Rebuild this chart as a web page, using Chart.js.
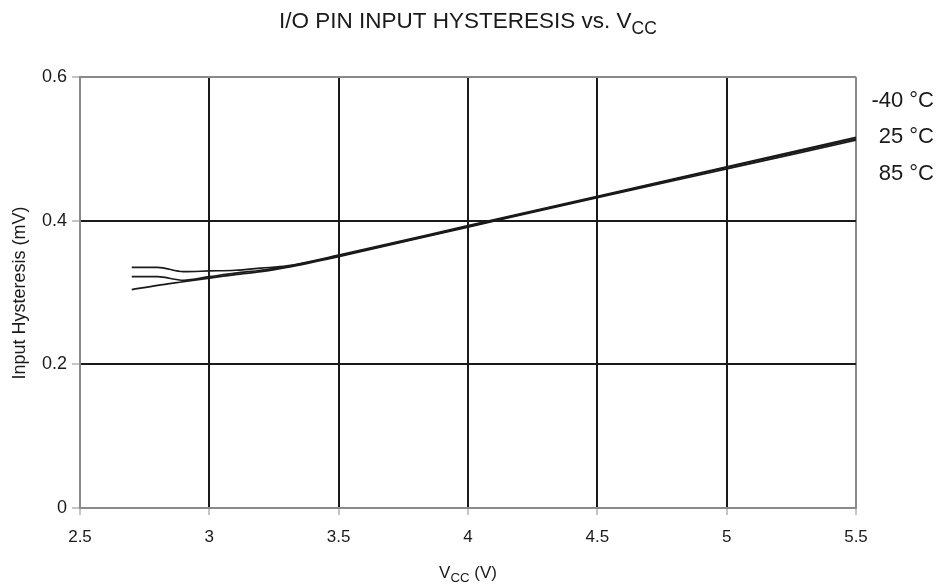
<!DOCTYPE html>
<html>
<head>
<meta charset="utf-8">
<script src="https://cdn.jsdelivr.net/npm/chart.js@4"></script>
<style>
  body { margin: 0; background: #fff; }
  canvas { display: block; }
</style>
</head>
<body>
<canvas id="chart" width="942" height="587"></canvas>
<script>
// supply voltage (V)
const vcc = [2.7, 2.8, 2.9, 3.0, 3.1, 3.2, 3.3, 3.5, 4.0, 4.5, 5.0, 5.5];
// input hysteresis per temperature
const hystM40 = [0.335, 0.335, 0.329, 0.330, 0.331, 0.334, 0.337, 0.352, 0.393, 0.434, 0.475, 0.516];
const hyst25 = [0.322, 0.322, 0.317, 0.322, 0.327, 0.331, 0.336, 0.351, 0.392, 0.433, 0.474, 0.514];
const hyst85 = [0.304, 0.310, 0.315, 0.320, 0.325, 0.329, 0.335, 0.350, 0.391, 0.432, 0.472, 0.512];
const tempLabels = ['-40 °C', '25 °C', '85 °C'];
const tempLabelY = [0.567, 0.516, 0.465];

const FONT = "'Liberation Sans', Arial, sans-serif";
const INK = '#1a1a1a';
const EDGE = '#8a8a8a';

const toPoints = (ys) => ys.map((y, i) => ({ x: vcc[i], y }));

const lineSet = (label, ys) => ({
  label,
  data: toPoints(ys),
  borderColor: INK,
  borderWidth: 1.7,
  pointRadius: 0,
  fill: false,
  cubicInterpolationMode: 'monotone',
});

// draws text with a subscript part
function subText(ctx, parts, cx, cy, size) {
  let total = 0;
  const pieces = parts.map((p) => {
    const s = p.sub ? size * 0.78 : size;
    ctx.font = s + 'px ' + FONT;
    const w = ctx.measureText(p.t).width;
    total += w;
    return { ...p, s, w };
  });
  let x = cx - total / 2;
  pieces.forEach((p) => {
    ctx.font = p.s + 'px ' + FONT;
    ctx.fillText(p.t, x, cy + (p.sub ? size * 0.3 : 0));
    x += p.w;
  });
}

const textPlugin = {
  id: 'texts',
  afterDraw(chart) {
    const { ctx, chartArea, scales } = chart;
    ctx.save();
    ctx.fillStyle = INK;
    ctx.textAlign = 'left';
    ctx.textBaseline = 'middle';
    const cx = (chartArea.left + chartArea.right) / 2;
    subText(ctx, [{ t: 'I/O PIN INPUT HYSTERESIS vs. V' }, { t: 'CC', sub: true }], cx, 22, 22.5);
    subText(ctx, [{ t: 'V' }, { t: 'CC', sub: true }, { t: ' (V)' }], cx, 573, 17);

    ctx.translate(20, 293);
    ctx.rotate(-Math.PI / 2);
    ctx.textAlign = 'center';
    ctx.font = '18px ' + FONT;
    ctx.fillText('Input Hysteresis (mV)', 0, 0);
    ctx.setTransform(1, 0, 0, 1, 0, 0);

    ctx.textAlign = 'right';
    ctx.font = '22px ' + FONT;
    tempLabels.forEach((t, i) => {
      ctx.fillText(t, 934, scales.y.getPixelForValue(tempLabelY[i]));
    });
    ctx.restore();
  },
};

const gridColor = (c) => {
  const s = c.scale;
  return c.tick && (c.tick.value === s.min || c.tick.value === s.max) ? EDGE : INK;
};

const fmt = (v) => String(Math.round(v * 10) / 10);

new Chart(document.getElementById('chart'), {
  type: 'line',
  data: {
    datasets: [
      lineSet('-40 °C', hystM40),
      lineSet('25 °C', hyst25),
      lineSet('85 °C', hyst85),
    ],
  },
  options: {
    responsive: false,
    animation: false,
    layout: { padding: { top: 77, right: 86, bottom: 0, left: 0 } },
    plugins: {
      legend: { display: false },
      tooltip: { enabled: false },
      title: { display: false },
    },
    scales: {
      x: {
        type: 'linear',
        min: 2.5,
        max: 5.5,
        afterFit: (s) => { s.height = 79; },
        ticks: {
          stepSize: 0.5,
          color: INK,
          padding: 12,
          callback: fmt,
          font: { family: FONT, size: 17 },
        },
        grid: {
          color: gridColor,
          lineWidth: 2,
          tickColor: EDGE,
          tickLength: 7,
          tickWidth: 1,
        },
        border: { color: EDGE, width: 2 },
      },
      y: {
        min: 0,
        max: 0.6,
        afterFit: (s) => { s.width = 80; },
        ticks: {
          stepSize: 0.2,
          color: INK,
          padding: 5,
          callback: fmt,
          font: { family: FONT, size: 18 },
        },
        grid: {
          color: gridColor,
          lineWidth: 2,
          tickColor: EDGE,
          tickLength: 8,
          tickWidth: 1,
        },
        border: { color: EDGE, width: 2 },
      },
    },
  },
  plugins: [textPlugin],
});
</script>
</body>
</html>
